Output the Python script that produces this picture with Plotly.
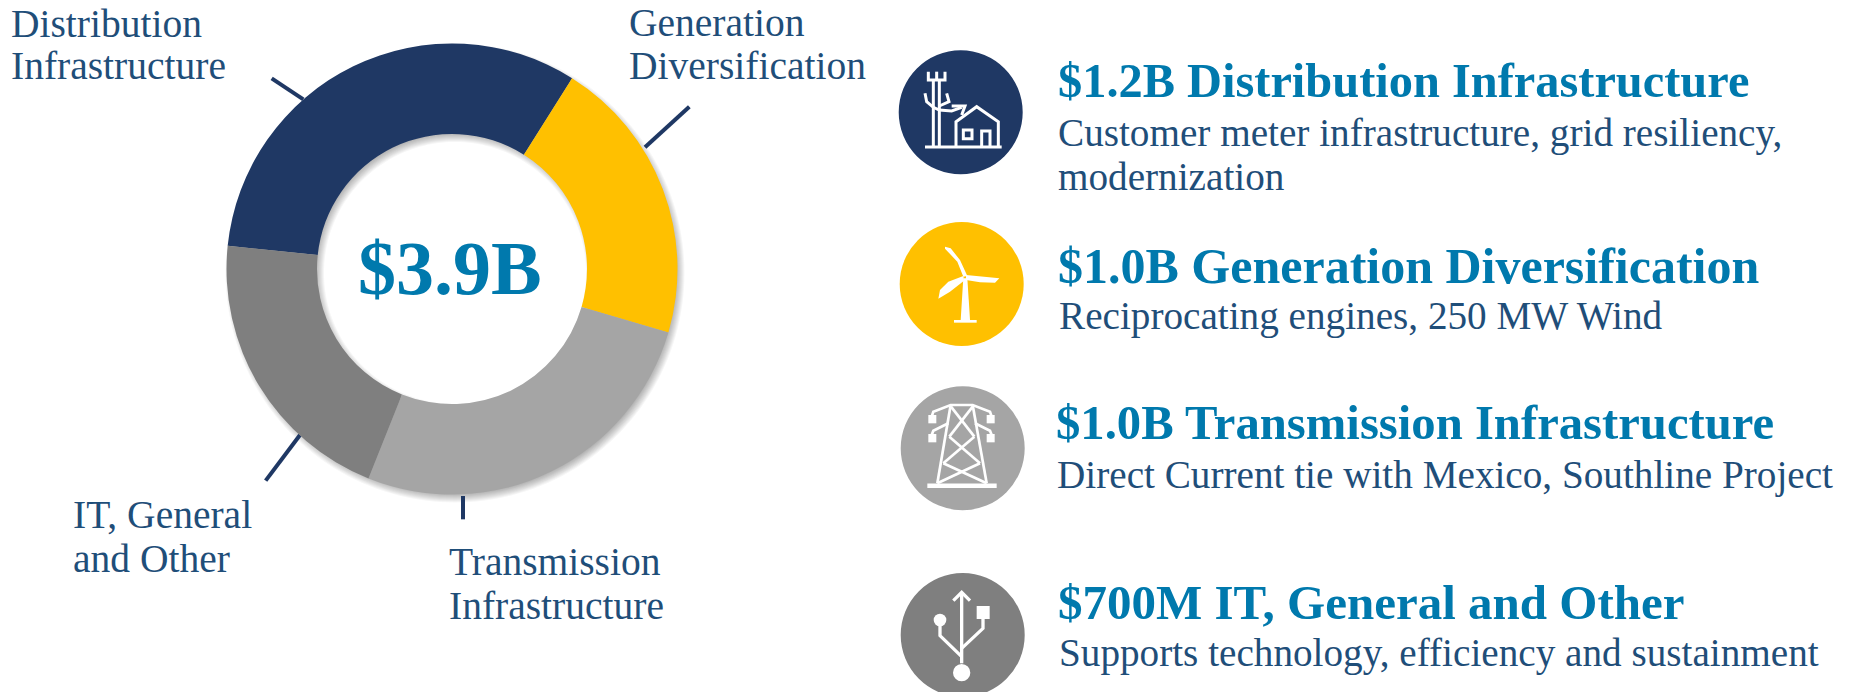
import numpy as np
import plotly.graph_objects as go

# --- data ---
categories = ["Distribution Infrastructure", "Generation Diversification",
              "Transmission Infrastructure", "IT, General and Other"]
slice_shares = [32.3, 20.6, 26.5, 20.6]
slice_colors = ["#1f3864", "#ffc000", "#a5a5a5", "#7f7f7f"]
total_label = "$3.9B"
callouts = [["Distribution", "Infrastructure"], ["Generation", "Diversification"],
            ["Transmission", "Infrastructure"], ["IT, General", "and Other"]]
headings = ["$1.2B Distribution Infrastructure", "$1.0B Generation Diversification",
            "$1.0B Transmission Infrastructure", "$700M IT, General and Other"]
details = [["Customer meter infrastructure, grid resiliency,", "modernization"],
           ["Reciprocating engines, 250 MW Wind"],
           ["Direct Current tie with Mexico, Southline Project"],
           ["Supports technology, efficiency and sustainment"]]

W, H = 1852, 692
CX, CY, RO, RI = 452, 269, 225.5, 135
SERIF = "Liberation Serif"
TEAL, BODY, NAVY = "#0079ad", "#1f4e79", "#1f3864"

fig = go.Figure()
fig.add_trace(go.Pie(
    labels=categories, values=slice_shares, hole=RI / RO, sort=False, direction="clockwise",
    rotation=275.9, textinfo="none", showlegend=False, hoverinfo="label",
    marker=dict(colors=slice_colors, line=dict(width=0)),
    domain=dict(x=[(CX - RO) / W, (CX + RO) / W], y=[1 - (CY + RO) / H, 1 - (CY - RO) / H]),
))

shapes, annotations = [], []


def ring(cx, cy, ro, ri):
    t = np.linspace(0, 2 * np.pi, 181)
    def loop(r, th):
        pts = [f"{cx + r * np.cos(a):.2f},{cy + r * np.sin(a):.2f}" for a in th]
        return "M" + " L".join(pts) + " Z"
    return loop(ro, t) + " " + loop(ri, t[::-1])


# soft drop shadow of the ring, below the pie
for d in np.arange(-4, 5, 1.0):
    shapes.append(dict(type="path", path=ring(CX + 3, CY + 4, RO + d, max(RI - d, 1)),
                       fillcolor="rgba(0,0,0,0.035)", line=dict(width=0), layer="below"))


def z(points, ox, oy):
    return [(ox + x / 3, oy + y / 3) for x, y in points]


def poly(points, color="white", width=3, layer="above", fill=None, close=False):
    p = "M" + " L".join(f"{x:.2f},{y:.2f}" for x, y in points) + (" Z" if close else "")
    shapes.append(dict(type="path", path=p, layer=layer,
                       line=dict(color=color, width=width) if width else dict(width=0),
                       fillcolor=fill if fill else "rgba(0,0,0,0)"))


def disc(cx, cy, r, color, layer="above"):
    shapes.append(dict(type="circle", x0=cx - r, x1=cx + r, y0=cy - r, y1=cy + r,
                       fillcolor=color, line=dict(width=0), layer=layer))


# leader lines
for seg in ([(215, 145), (310, 208)], [(1468, 230), (1335, 352)],
            [(300, 1215), (197, 1352)], [(789, 1398), (789, 1468)]):
    poly(z(seg, 200, 30), color=NAVY, width=4, layer="below")

# icon discs
disc(960.7, 112.3, 62, "#1f3864")
disc(961.7, 284, 62, "#ffc000")
disc(962.7, 448.3, 62, "#a5a5a5")
disc(962.7, 635, 62, "#7f7f7f")

# house + pole icon
O1 = (880, 30)
for seg in ([(135, 351), (365, 351)],
            [(145, 125), (145, 150), (195, 150), (195, 125)], [(170, 125), (170, 150)],
            [(160, 150), (160, 351)], [(178, 150), (178, 351)],
            [(135, 190), (140, 215), (160, 232), (178, 240), (215, 243), (245, 232)],
            [(200, 190), (207, 215), (178, 228)], [(215, 228), (255, 228), (245, 255)],
            [(228, 351), (228, 275), (290, 230), (355, 275), (355, 351)],
            [(305, 351), (305, 303), (330, 303), (330, 351)]):
    poly(z(seg, *O1))
poly(z([(250, 300), (276, 300), (276, 326), (250, 326)], *O1), close=True)

# wind turbine icon
poly(z([(250, 745), (262, 745), (270, 870), (242, 870)], *O1), width=0, fill="white", close=True)
poly(z([(222, 870), (290, 870), (290, 878), (222, 878)], *O1), width=0, fill="white", close=True)
poly(z([(250, 740), (232, 695), (195, 656), (195, 650), (212, 655), (240, 690), (262, 738)], *O1), width=0, fill="white", close=True)
poly(z([(258, 735), (320, 741), (358, 745), (345, 758), (300, 757), (258, 750)], *O1), width=0, fill="white", close=True)
poly(z([(250, 738), (205, 755), (180, 780), (175, 806), (210, 785), (252, 752)], *O1), width=0, fill="white", close=True)

# pylon icon
O2 = (880, 370)
for seg in ([(142, 347), (350, 347)], [(172, 340), (212, 105)], [(320, 340), (278, 105)],
            [(155, 140), (160, 125), (212, 105), (278, 105), (330, 125), (335, 140)],
            [(155, 195), (160, 182), (205, 160)],
            [(285, 160), (330, 182), (335, 195)],
            [(213, 110), (283, 200)], [(278, 110), (208, 200)], [(208, 200), (300, 280)],
            [(283, 200), (190, 280)], [(190, 280), (320, 340)], [(300, 280), (172, 340)]):
    poly(z(seg, *O2), width=4.5 if seg[0] == (142, 347) else 2.7)
for x0, y0 in ((145, 135), (145, 192), (320, 135), (320, 192)):
    poly(z([(x0, y0), (x0 + 24, y0), (x0 + 24, y0 + 25), (x0, y0 + 25)], *O2), width=0, fill="white", close=True)

# USB icon
for seg in ([(245, 670), (245, 880)], [(220, 692), (245, 667), (270, 692)],
            [(180, 750), (180, 797), (245, 860)], [(309, 730), (309, 775), (245, 835)]):
    poly(z(seg, *O2), width=3.3)
poly(z([(290, 708), (329, 708), (329, 747), (290, 747)], *O2), width=0, fill="white", close=True)
disc(880 + 245 / 3, 370 + 908 / 3, 26 / 3, "white")
disc(880 + 180 / 3, 370 + 750 / 3, 19 / 3, "white")


def text(s, x, y, size, color, bold=False, anchor="left"):
    annotations.append(dict(text=f"<b>{s}</b>" if bold else s, x=x, y=y, xref="x", yref="y",
                            xanchor=anchor, yanchor="middle", showarrow=False,
                            font=dict(family=SERIF, size=size, color=color)))


text(total_label, 450, 268, 76, TEAL, bold=True, anchor="center")

# chart callouts
CALL_POS = [(9, 24, 66), (627, 23, 66), (447, 562, 606), (71, 515, 559)]
for (a, b), (x, y1, y2) in zip(callouts, CALL_POS):
    text(a, x, y1, 39.5, BODY)
    text(b, x, y2, 39.5, BODY)

# right column
HEAD_POS = [(1056, 80), (1056, 266), (1054, 423), (1056, 602)]
HEAD_SIZE = [48.4, 50, 48.7, 49]
DETAIL_POS = [(1056, [133, 176]), (1057, [316]), (1055, [475]), (1057, [653])]
for h, (hx, hy), sz in zip(headings, HEAD_POS, HEAD_SIZE):
    text(h, hx, hy, sz, TEAL, bold=True)
for lines, (dx, ys) in zip(details, DETAIL_POS):
    for s, y in zip(lines, ys):
        text(s, dx, y, 39.2, BODY)

fig.update_layout(
    width=W, height=H, margin=dict(l=0, r=0, t=0, b=0), autosize=False,
    paper_bgcolor="white", plot_bgcolor="white",
    xaxis=dict(range=[0, W], visible=False, fixedrange=True),
    yaxis=dict(range=[H, 0], visible=False, fixedrange=True),
    shapes=shapes, annotations=annotations, showlegend=False,
)
fig.write_html("out.html", config=dict(displayModeBar=False),
               post_script="document.body.style.margin='0';document.documentElement.style.overflow='hidden';")
